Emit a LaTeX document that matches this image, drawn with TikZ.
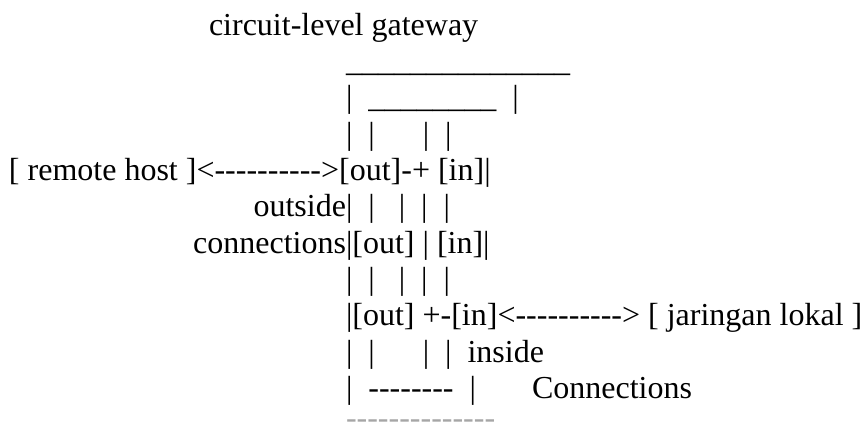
\documentclass[tikz,border=0pt]{standalone}
\usepackage{fontspec}
\setmainfont{Liberation Serif}[Ligatures=TeXOff]
\begin{document}
\begin{tikzpicture}[x=1pt,y=-1pt,
  txt/.style={inner sep=0pt,outer sep=0pt,anchor=base west,font=\fontsize{32}{35}\selectfont},
  txtr/.style={txt,anchor=base east},
  faint/.style={txt,text=black!35}]
\useasboundingbox (0,0) rectangle (863,430);
\node[txt] (title) at (209,35.4) {circuit-level gateway};
\node[txt] (l2) at (346,71.7) {\_\_\_\_\_\_\_\_\_\_\_\_\_\_};
\node[txt] (l3) at (346,108) {|~~\_\_\_\_\_\_\_\_~~|};
\node[txt] (l4) at (346,144.3) {|~~|~~~~~~|~~|};
\node[txt] (l5) at (9,180.6) {[ remote host ]<---------->[out]-+ [in]|};
\node[txtr] (l6a) at (346,216.9) {outside};
\node[txt] (l6b) at (346,216.9) {|~~|~~~|~~|~~|};
\node[txtr] (l7a) at (346,253.2) {connections};
\node[txt] (l7b) at (346,253.2) {|[out] | [in]|};
\node[txt] (l8) at (346,289.5) {|~~|~~~|~~|~~|};
\node[txt] (l9) at (346,325.8) {|[out] +-[in]<----------> [ jaringan lokal ]};
\node[txt] (l10) at (346,362.1) {|~~|~~~~~~|~~|~~inside};
\node[txt] (l11) at (346,398.4) {|~~--------~~|~~~~~~~Connections};
\node[faint] (l12) at (346,428.5) {--------------};
\end{tikzpicture}
\end{document}
